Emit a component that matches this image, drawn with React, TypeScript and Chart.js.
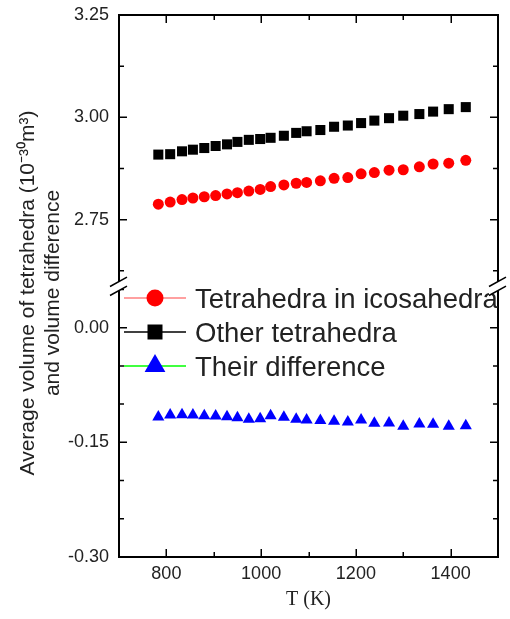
import React, { useEffect, useRef } from 'react';
import { Chart, registerables } from 'chart.js';

Chart.register(...registerables);

// ---- data ----
const temperatures = [783, 808, 833, 856, 880, 904, 928, 950, 974, 998, 1020, 1048, 1074, 1096, 1125, 1154, 1183, 1211, 1239, 1270, 1300, 1334, 1363, 1396, 1432];
const icosaVolumes = [2.788, 2.793, 2.799, 2.803, 2.806, 2.809, 2.813, 2.816, 2.820, 2.824, 2.831, 2.835, 2.839, 2.841, 2.845, 2.851, 2.853, 2.862, 2.865, 2.871, 2.872, 2.879, 2.886, 2.888, 2.895];
const otherVolumes = [2.909, 2.910, 2.917, 2.921, 2.925, 2.930, 2.934, 2.940, 2.945, 2.947, 2.950, 2.955, 2.962, 2.966, 2.969, 2.977, 2.980, 2.986, 2.992, 2.998, 3.004, 3.008, 3.014, 3.020, 3.025];
const differences = [-0.1168, -0.1142, -0.1138, -0.1142, -0.1151, -0.1155, -0.1164, -0.1177, -0.1199, -0.1190, -0.1151, -0.1173, -0.1199, -0.1208, -0.1216, -0.1225, -0.1234, -0.1208, -0.1251, -0.1247, -0.1290, -0.1260, -0.1264, -0.1290, -0.1282];

const seriesLabels = ['Tetrahedra in icosahedra', 'Other tetrahedra', 'Their difference'];
const xTitle = 'T (K)';
const yTitleLines = ['Average volume of tetrahedra (10\u207B\u00B3\u2070m\u00B3)', 'and volume difference'];

const xTickValues = [800, 1000, 1200, 1400];
const xMinorValues = [900, 1100, 1300];
const upperTickValues = [2.75, 3.0, 3.25];
const upperMinorValues = [2.625, 2.875, 3.125];
const lowerTickValues = [-0.3, -0.15, 0.0];
const lowerMinorValues = [-0.25, -0.2, -0.1, -0.05, 0.05];

const xRange = [700, 1500];
const upperRange = [2.588, 3.25];
const lowerRange = [-0.3, 0.0545];

const SANS = '"Liberation Sans", Arial, sans-serif';
const SERIF = '"Liberation Serif", "Times New Roman", serif';
const TEXT = '#222222';

const legendRows = [
  { label: seriesLabels[0], line: '#ff8080', color: '#ff0000', style: 'circle', r: 8.5 },
  { label: seriesLabels[1], line: '#000000', color: '#000000', style: 'rect', r: 7.5 },
  { label: seriesLabels[2], line: '#00ff00', color: '#0000ff', style: 'triangle', r: 12 },
];

function marker(ctx: CanvasRenderingContext2D, style: string, x: number, y: number, r: number) {
  ctx.beginPath();
  if (style === 'circle') {
    ctx.arc(x, y, r, 0, Math.PI * 2);
  } else if (style === 'rect') {
    ctx.rect(x - r, y - r, 2 * r, 2 * r);
  } else {
    const hw = r * Math.sin(Math.PI / 3);
    ctx.moveTo(x, y - r);
    ctx.lineTo(x + hw, y + r / 2);
    ctx.lineTo(x - hw, y + r / 2);
    ctx.closePath();
  }
  ctx.fill();
}

const framePlugin = {
  id: 'frameTicksBreakLegend',
  afterDraw(chart: any) {
    const ctx: CanvasRenderingContext2D = chart.ctx;
    const { left, right, top, bottom } = chart.chartArea;
    const xs = chart.scales.x;
    const yT = chart.scales.yTop;
    const yB = chart.scales.yBot;
    ctx.save();

    // top and right frame
    ctx.strokeStyle = '#000';
    ctx.lineWidth = 2;
    ctx.beginPath();
    ctx.moveTo(left - 1, top);
    ctx.lineTo(right, top);
    ctx.lineTo(right, bottom + 1);
    ctx.stroke();

    // inward ticks
    const MAJ = 8;
    const MIN = 5;
    ctx.lineWidth = 1.5;
    ctx.beginPath();
    const vTick = (v: number, len: number) => {
      const px = Math.round(xs.getPixelForValue(v)) + 0.25;
      ctx.moveTo(px, bottom);
      ctx.lineTo(px, bottom - len);
      ctx.moveTo(px, top);
      ctx.lineTo(px, top + len);
    };
    const hTick = (s: any, v: number, len: number) => {
      const py = s.getPixelForValue(v);
      ctx.moveTo(left, py);
      ctx.lineTo(left + len, py);
      ctx.moveTo(right, py);
      ctx.lineTo(right - len, py);
    };
    xTickValues.forEach((v) => vTick(v, MAJ));
    xMinorValues.forEach((v) => vTick(v, MIN));
    upperTickValues.forEach((v) => hTick(yT, v, MAJ));
    upperMinorValues.forEach((v) => hTick(yT, v, MIN));
    lowerTickValues.forEach((v) => hTick(yB, v, MAJ));
    lowerMinorValues.forEach((v) => hTick(yB, v, MIN));
    ctx.stroke();

    // legend
    const base = yB.top;
    const rowY = [base + 12, base + 46, base + 80];
    legendRows.forEach((row, i) => {
      const y = rowY[i];
      ctx.strokeStyle = row.line;
      ctx.lineWidth = 1.5;
      ctx.beginPath();
      ctx.moveTo(left + 5, y);
      ctx.lineTo(left + 67, y);
      ctx.stroke();
      ctx.fillStyle = row.color;
      marker(ctx, row.style, left + 36, y, row.r);
      ctx.fillStyle = TEXT;
      ctx.font = '27.5px ' + SANS;
      ctx.textBaseline = 'alphabetic';
      ctx.textAlign = 'left';
      ctx.fillText(row.label, left + 76, y + 10);
    });

    // axis break marks
    const yb = yT.bottom;
    const slope = -0.557;
    const gap = 4.5;
    ctx.lineWidth = 1.5;
    ctx.strokeStyle = '#000';
    [left, right].forEach((x0: number) => {
      const x1 = x0 - 9;
      const x2 = x0 + 8;
      const y1 = yb + slope * (x1 - x0);
      const y2 = yb + slope * (x2 - x0);
      ctx.fillStyle = '#fff';
      ctx.beginPath();
      ctx.moveTo(x1, y1 - gap);
      ctx.lineTo(x2, y2 - gap);
      ctx.lineTo(x2, y2 + gap);
      ctx.lineTo(x1, y1 + gap);
      ctx.closePath();
      ctx.fill();
      ctx.beginPath();
      ctx.moveTo(x1, y1 - gap);
      ctx.lineTo(x2, y2 - gap);
      ctx.moveTo(x1, y1 + gap);
      ctx.lineTo(x2, y2 + gap);
      ctx.stroke();
    });

    ctx.restore();
  },
};

const tickFont = { family: SANS, size: 18 };

const noPad = (s: any) => {
  s.paddingTop = 0;
  s.paddingBottom = 0;
};

export default function App() {
  const ref = useRef<HTMLCanvasElement>(null);

  useEffect(() => {
    const canvas = ref.current;
    if (!canvas) return;
    const pts = (ys: number[]) => temperatures.map((t, i) => ({ x: t, y: ys[i] }));
    const chart = new Chart(canvas, {
      type: 'scatter',
      data: {
        datasets: [
          {
            label: seriesLabels[0],
            data: pts(icosaVolumes),
            yAxisID: 'yTop',
            showLine: false,
            borderColor: '#ff8080',
            backgroundColor: '#ff0000',
            pointStyle: 'circle',
            pointRadius: 5.5,
            pointBackgroundColor: '#ff0000',
            pointBorderColor: '#ff0000',
            pointBorderWidth: 0,
          },
          {
            label: seriesLabels[1],
            data: pts(otherVolumes),
            yAxisID: 'yTop',
            showLine: false,
            borderColor: '#000000',
            backgroundColor: '#000000',
            pointStyle: 'rect',
            pointRadius: 7.1,
            pointBackgroundColor: '#000000',
            pointBorderColor: '#000000',
            pointBorderWidth: 0,
          },
          {
            label: seriesLabels[2],
            data: pts(differences),
            yAxisID: 'yBot',
            showLine: false,
            borderColor: '#00ff00',
            backgroundColor: '#0000ff',
            pointStyle: 'triangle',
            pointRadius: 7,
            pointBackgroundColor: '#0000ff',
            pointBorderColor: '#0000ff',
            pointBorderWidth: 0,
          },
        ],
      },
      options: {
        responsive: false,
        animation: false,
        layout: { padding: { top: 15, right: 12, bottom: 0, left: 0 } },
        plugins: { legend: { display: false }, tooltip: { enabled: false } },
        scales: {
          x: {
            type: 'linear',
            position: 'bottom',
            min: xRange[0],
            max: xRange[1],
            afterBuildTicks: (s: any) => {
              s.ticks = xTickValues.map((v) => ({ value: v }));
            },
            afterFit: (s: any) => {
              s.height = 62;
              s.paddingLeft = 0;
              s.paddingRight = 0;
            },
            ticks: {
              padding: 6,
              font: tickFont,
              color: TEXT,
              autoSkip: false,
              maxRotation: 0,
              callback: (v: any) => String(v),
            },
            grid: { display: false, drawTicks: false },
            border: { display: true, color: '#000', width: 2 },
            title: {
              display: true,
              text: xTitle,
              font: { family: SERIF, size: 20 },
              color: TEXT,
              padding: { top: 0, bottom: 7 },
            },
          },
          yPad: {
            type: 'linear',
            position: 'left',
            stack: 'title',
            stackWeight: 14,
            weight: 10,
            display: false,
          },
          yTitle: {
            type: 'linear',
            position: 'left',
            stack: 'title',
            stackWeight: 528,
            weight: 9,
            afterFit: (s: any) => {
              s.width = 62;
              noPad(s);
            },
            ticks: { display: false },
            grid: { display: false, drawTicks: false },
            border: { display: false },
            title: {
              display: true,
              text: yTitleLines,
              font: { family: SANS, size: 21, lineHeight: 1.2 },
              color: TEXT,
              padding: { top: 15.4, bottom: 0 },
            },
          },
          yTop: {
            type: 'linear',
            position: 'left',
            stack: 'y',
            stackWeight: 271,
            weight: 2,
            min: upperRange[0],
            max: upperRange[1],
            afterBuildTicks: (s: any) => {
              s.ticks = upperTickValues.map((v) => ({ value: v }));
            },
            afterFit: (s: any) => {
              s.width = 57;
              noPad(s);
            },
            ticks: {
              padding: 10,
              font: tickFont,
              color: TEXT,
              autoSkip: false,
              callback: (v: any) => Number(v).toFixed(2),
            },
            grid: { display: false, drawTicks: false },
            border: { display: true, color: '#000', width: 2 },
          },
          yBot: {
            type: 'linear',
            position: 'left',
            stack: 'y',
            stackWeight: 271,
            weight: 1,
            min: lowerRange[0],
            max: lowerRange[1],
            afterBuildTicks: (s: any) => {
              s.ticks = lowerTickValues.map((v) => ({ value: v }));
            },
            afterFit: (s: any) => {
              s.width = 57;
              noPad(s);
            },
            ticks: {
              padding: 10,
              font: tickFont,
              color: TEXT,
              autoSkip: false,
              callback: (v: any) => Number(v).toFixed(2),
            },
            grid: { display: false, drawTicks: false },
            border: { display: true, color: '#000', width: 2 },
          },
        },
      } as any,
      plugins: [framePlugin],
    } as any);
    return () => chart.destroy();
  }, []);

  return (
    <div style={{ position: 'fixed', left: 0, top: 0, width: 510, height: 619, background: '#fff' }}>
      <canvas ref={ref} width={510} height={619} style={{ display: 'block', width: 510, height: 619 }} />
    </div>
  );
}
